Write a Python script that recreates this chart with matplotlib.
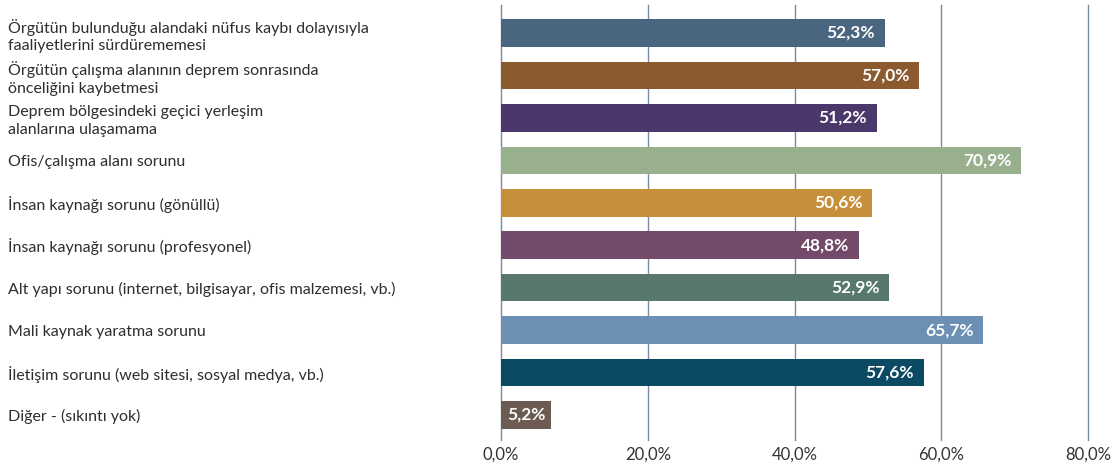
import matplotlib.pyplot as plt

plt.rcParams['font.family'] = ['Lato', 'DejaVu Sans']

categories = [
    "Örgütün bulunduğu alandaki nüfus kaybı dolayısıyla\nfaaliyetlerini sürdürememesi",
    "Örgütün çalışma alanının deprem sonrasında\nönceliğini kaybetmesi",
    "Deprem bölgesindeki geçici yerleşim\nalanlarına ulaşamama",
    "Ofis/çalışma alanı sorunu",
    "İnsan kaynağı sorunu (gönüllü)",
    "İnsan kaynağı sorunu (profesyonel)",
    "Alt yapı sorunu (internet, bilgisayar, ofis malzemesi, vb.)",
    "Mali kaynak yaratma sorunu",
    "İletişim sorunu (web sitesi, sosyal medya, vb.)",
    "Diğer - (sıkıntı yok)",
]
values = [52.3, 57.0, 51.2, 70.9, 50.6, 48.8, 52.9, 65.7, 57.6, 5.2]
colors = ['#4A6580', '#8B5A2E', '#4B376B', '#98B08E', '#C68F3A',
          '#744A6A', '#58786C', '#6B90B4', '#0B4A62', '#6B5B50']
xticks = [0, 20, 40, 60, 80]

fig = plt.figure(figsize=(11.18, 4.65), dpi=100)
ax = fig.add_axes([501 / 1118, 25 / 465, 587 / 1118, 435 / 465])

ypos = list(range(len(values)))
ax.barh(ypos, values, height=0.65, color=colors, zorder=2)

for y, v, c in zip(ypos, values, colors):
    lbl = f"{v:.1f}%".replace('.', ',')
    if v < 10:
        # short bar: the label box extends the bar like in the original
        ax.annotate(lbl, (0, y), xytext=(4.2, 0), textcoords='offset points',
                    color='white', fontsize=12.5, fontweight='bold',
                    ha='left', va='center', zorder=3,
                    bbox=dict(facecolor=c, edgecolor='none', pad=4.2))
    else:
        ax.annotate(lbl, (v, y), xytext=(-7, 0), textcoords='offset points',
                    color='white', fontsize=12.5, fontweight='bold',
                    ha='right', va='center', zorder=3)

ax.set_xlim(0, 80)
ax.set_ylim(9.59, -0.66)
ax.set_xticks(xticks)
ax.set_xticklabels([f"{t:.1f}%".replace('.', ',') for t in xticks],
                   fontsize=12, color='#333333')
ax.set_yticks(ypos)
ax.set_yticklabels(categories, fontsize=11.5, color='#2E2E2E', ha='left',
                   linespacing=1.3)
ax.tick_params(axis='y', length=0, pad=355)
ax.tick_params(axis='x', length=0, pad=5)

ax.grid(axis='x', color='#7A8BA0', linewidth=1, zorder=0)
for gl in ax.get_xgridlines():
    gl.set_clip_on(False)
ax.set_axisbelow(True)
for s in ax.spines.values():
    s.set_visible(False)

fig.savefig('out.png', dpi=100)
